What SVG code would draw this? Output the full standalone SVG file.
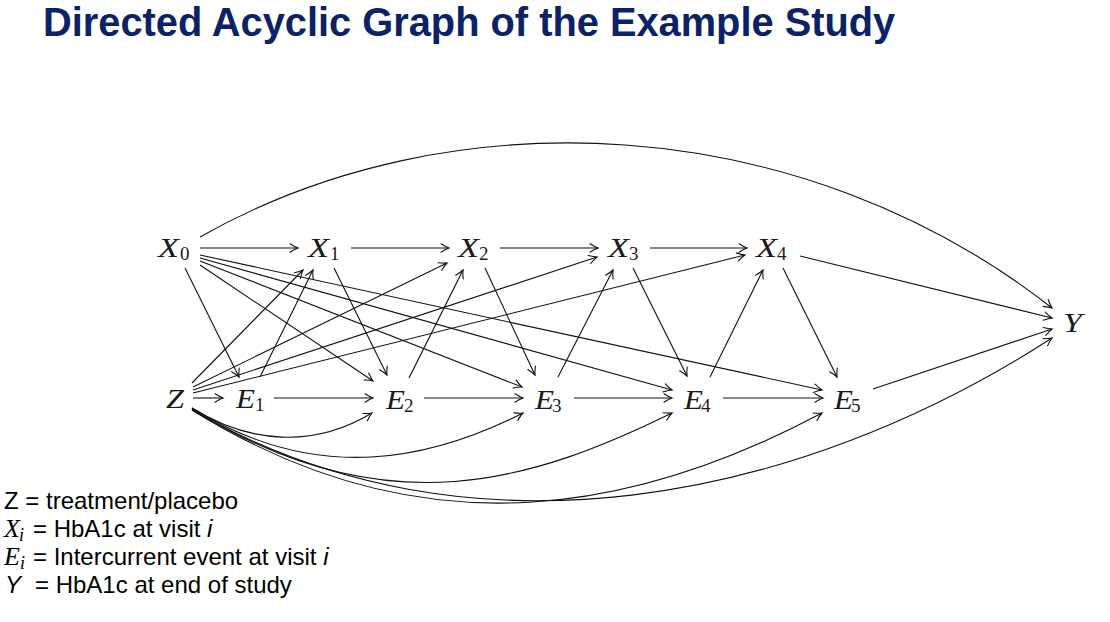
<svg xmlns="http://www.w3.org/2000/svg" width="1110" height="622" viewBox="0 0 1110 622">
<style>
.t{font-family:"Liberation Sans",Arial,sans-serif;font-weight:bold;font-size:39.8px;fill:#0b2267}
.m{font-family:"Liberation Serif","Times New Roman",serif;font-style:italic;font-size:27px;fill:#1a1a1a}
.s{font-family:"Liberation Serif","Times New Roman",serif;font-size:19px;fill:#1a1a1a}
.e{fill:none;stroke:#111;stroke-width:1.1}
.lg{font-family:"Liberation Sans",Arial,sans-serif;font-size:24px;fill:#000}
.lm{font-family:"Liberation Serif","Times New Roman",serif;font-style:italic;font-size:26px;fill:#000}
.ls{font-family:"Liberation Serif","Times New Roman",serif;font-style:italic;font-size:18px;fill:#000}
</style>
<defs>
<marker id="ah" viewBox="-10 -6 12 12" refX="0" refY="0" markerWidth="12" markerHeight="12" markerUnits="userSpaceOnUse" orient="auto">
<path d="M-8,-4.2 Q-3,-1 0,0 Q-3,1 -8,4.2" fill="none" stroke="#111" stroke-width="1.1" stroke-linecap="round"/>
</marker>
</defs>
<rect width="1110" height="622" fill="#fff"/>
<text class="t" x="43" y="36">Directed Acyclic Graph of the Example Study</text>

<g id="connectors">
<!-- X chain -->
<path class="e" d="M200,248 L298,248" marker-end="url(#ah)"/>
<path class="e" d="M351,248 L449,248" marker-end="url(#ah)"/>
<path class="e" d="M500,248 L598,248" marker-end="url(#ah)"/>
<path class="e" d="M650,248 L747,248" marker-end="url(#ah)"/>
<!-- E chain -->
<path class="e" d="M193,398 L223,398" marker-end="url(#ah)"/>
<path class="e" d="M274,398 L373,398" marker-end="url(#ah)"/>
<path class="e" d="M424,398 L523,398" marker-end="url(#ah)"/>
<path class="e" d="M574,398 L672,398" marker-end="url(#ah)"/>
<path class="e" d="M723,398 L823,398" marker-end="url(#ah)"/>
<!-- X0 to E -->
<path class="e" d="M185,268 L239,377" marker-end="url(#ah)"/>
<path class="e" d="M200,265 L373,381" marker-end="url(#ah)"/>
<path class="e" d="M200,261 L522,387" marker-end="url(#ah)"/>
<path class="e" d="M200,258 L672,390" marker-end="url(#ah)"/>
<path class="e" d="M200,255 L822,390" marker-end="url(#ah)"/>
<!-- Z to X -->
<path class="e" d="M192,383 L303,270" marker-end="url(#ah)"/>
<path class="e" d="M193,387 L447,263" marker-end="url(#ah)"/>
<path class="e" d="M193,390 L597,257" marker-end="url(#ah)"/>
<path class="e" d="M193,393 L745,255" marker-end="url(#ah)"/>
<!-- E to X -->
<path class="e" d="M260,377 L313,270" marker-end="url(#ah)"/>
<path class="e" d="M409,378 L463,270" marker-end="url(#ah)"/>
<path class="e" d="M558,377 L613,270" marker-end="url(#ah)"/>
<path class="e" d="M710,377 L763,270" marker-end="url(#ah)"/>
<!-- X to E -->
<path class="e" d="M334,268 L387,375" marker-end="url(#ah)"/>
<path class="e" d="M485,268 L535,375" marker-end="url(#ah)"/>
<path class="e" d="M633,268 L687,376" marker-end="url(#ah)"/>
<path class="e" d="M783,268 L837,377" marker-end="url(#ah)"/>
<!-- to Y -->
<path class="e" d="M200,237 C450,95 800,110 1052,308" marker-end="url(#ah)"/>
<path class="e" d="M800,256 L1052,318" marker-end="url(#ah)"/>
<path class="e" d="M873,389 L1052,329" marker-end="url(#ah)"/>
<path class="e" d="M192,410 C470,570 800,501 1052,338" marker-end="url(#ah)"/>
<!-- Z curves -->
<path class="e" d="M192,408 C250,444 314,448 372,413" marker-end="url(#ah)"/>
<path class="e" d="M192,408 C319,487 434,458 523,413" marker-end="url(#ah)"/>
<path class="e" d="M192,409 C387,531 537,479 672,413" marker-end="url(#ah)"/>
<path class="e" d="M192,410 C429,558 645,507 822,413" marker-end="url(#ah)"/>
</g>

<g id="node-X0"><text class="m" x="158" y="257" textLength="21" lengthAdjust="spacingAndGlyphs">X</text><text class="s" x="180" y="260">0</text></g>
<g id="node-X1"><text class="m" x="308" y="257" textLength="21" lengthAdjust="spacingAndGlyphs">X</text><text class="s" x="330" y="260">1</text></g>
<g id="node-X2"><text class="m" x="458" y="257" textLength="21" lengthAdjust="spacingAndGlyphs">X</text><text class="s" x="479" y="260">2</text></g>
<g id="node-X3"><text class="m" x="608" y="257" textLength="21" lengthAdjust="spacingAndGlyphs">X</text><text class="s" x="629" y="260">3</text></g>
<g id="node-X4"><text class="m" x="756" y="257" textLength="21" lengthAdjust="spacingAndGlyphs">X</text><text class="s" x="777" y="260">4</text></g>
<g id="node-Y"><text class="m" x="1063" y="332" textLength="19" lengthAdjust="spacingAndGlyphs">Y</text></g>
<g id="node-Z"><text class="m" x="166" y="408" textLength="18" lengthAdjust="spacingAndGlyphs">Z</text></g>
<g id="node-E1"><text class="m" x="236" y="408" textLength="19" lengthAdjust="spacingAndGlyphs">E</text><text class="s" x="255" y="411">1</text></g>
<g id="node-E2"><text class="m" x="386" y="409" textLength="19" lengthAdjust="spacingAndGlyphs">E</text><text class="s" x="404" y="412">2</text></g>
<g id="node-E3"><text class="m" x="535" y="409" textLength="19" lengthAdjust="spacingAndGlyphs">E</text><text class="s" x="552" y="412">3</text></g>
<g id="node-E4"><text class="m" x="684" y="409" textLength="19" lengthAdjust="spacingAndGlyphs">E</text><text class="s" x="701" y="412">4</text></g>
<g id="node-E5"><text class="m" x="834" y="409" textLength="19" lengthAdjust="spacingAndGlyphs">E</text><text class="s" x="851" y="412">5</text></g>

<g id="legend">
<text class="lg" x="4" y="509">Z = treatment/placebo</text>
<text class="lm" x="4" y="537">X</text><text class="ls" x="19" y="541">i</text>
<text class="lg" x="33" y="537">= HbA1c at visit <tspan font-style="italic">i</tspan></text>
<text class="lm" x="4" y="565">E</text><text class="ls" x="20" y="569">i</text>
<text class="lg" x="33" y="565">= Intercurrent event at visit <tspan font-style="italic">i</tspan></text>
<text class="lg" x="5" y="593" font-style="italic">Y</text>
<text class="lg" x="35" y="593">= HbA1c at end of study</text>
</g>
</svg>
